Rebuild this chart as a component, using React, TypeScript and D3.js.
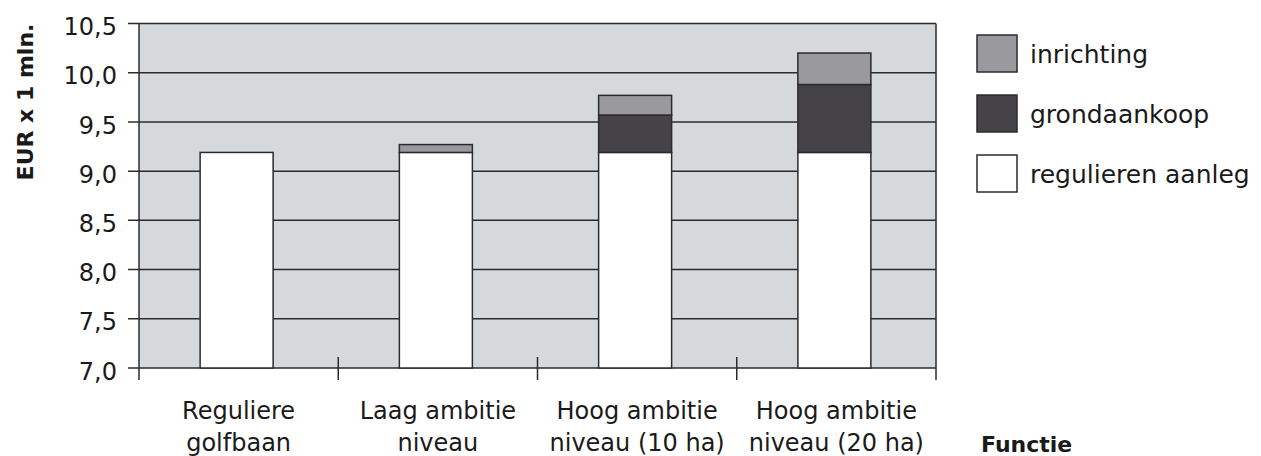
import { useEffect, useRef } from "react";
import * as d3 from "d3";

const categories = ["Reguliere golfbaan", "Laag ambitie niveau", "Hoog ambitie niveau (10 ha)", "Hoog ambitie niveau (20 ha)"];
const categoryLines = [
  ["Reguliere", "golfbaan"],
  ["Laag ambitie", "niveau"],
  ["Hoog ambitie", "niveau (10 ha)"],
  ["Hoog ambitie", "niveau (20 ha)"],
];
const seriesNames = ["regulieren aanleg", "grondaankoop", "inrichting"];
const regulierenAanleg = [9.19, 9.19, 9.19, 9.19];
const grondaankoop = [0, 0, 0.38, 0.69];
const inrichting = [0, 0.08, 0.2, 0.32];
const yTicks = [7.0, 7.5, 8.0, 8.5, 9.0, 9.5, 10.0, 10.5];

const App = () => {
  const svgRef = useRef<SVGSVGElement | null>(null);

  useEffect(() => {
    const width = 1261;
    const height = 456;
    const margin = { top: 23.5, right: 325, bottom: 88, left: 139 };
    const font = "'DejaVu Sans', sans-serif";
    const ink = "#2b2b2d";
    const textCol = "#1a1a1a";

    const colors: Record<string, string> = {
      "regulieren aanleg": "#ffffff",
      grondaankoop: "#454347",
      inrichting: "#9a999e",
    };

    const svg = d3.select(svgRef.current);
    svg.selectAll("*").remove();

    const x = d3
      .scaleBand<string>()
      .domain(categories)
      .range([margin.left, width - margin.right]);

    const y = d3
      .scaleLinear()
      .domain([7, 10.5])
      .range([height - margin.bottom, margin.top])
      .clamp(true);

    const table = categories.map((c, i) => ({
      cat: c,
      "regulieren aanleg": regulierenAanleg[i],
      grondaankoop: grondaankoop[i],
      inrichting: inrichting[i],
    }));
    const stacked = d3.stack<any>().keys(seriesNames)(table);

    // plot background
    svg
      .append("rect")
      .attr("x", margin.left)
      .attr("y", margin.top)
      .attr("width", width - margin.right - margin.left)
      .attr("height", y(7) - margin.top)
      .attr("fill", "#d6d9dc");

    // gridlines (with the left tick marks)
    svg
      .append("g")
      .selectAll("line")
      .data(yTicks)
      .join("line")
      .attr("x1", margin.left - 11)
      .attr("x2", width - margin.right)
      .attr("y1", (d) => y(d))
      .attr("y2", (d) => y(d))
      .attr("stroke", ink)
      .attr("stroke-width", 1.5);

    // right border
    svg
      .append("line")
      .attr("x1", width - margin.right)
      .attr("x2", width - margin.right)
      .attr("y1", margin.top)
      .attr("y2", y(7) + 12)
      .attr("stroke", ink)
      .attr("stroke-width", 1.5);

    // bars
    const barW = 73;
    svg
      .append("g")
      .selectAll("g")
      .data(stacked)
      .join("g")
      .attr("fill", (s) => colors[s.key])
      .selectAll("rect")
      .data((s) => s.filter((d) => d[1] - d[0] > 0))
      .join("rect")
      .attr("x", (d) => x(d.data.cat)! + x.bandwidth() / 2 - barW / 2 - 2)
      .attr("width", barW)
      .attr("y", (d) => y(d[1]))
      .attr("height", (d) => y(d[0]) - y(d[1]))
      .attr("stroke", ink)
      .attr("stroke-width", 1.5);

    // y axis line
    svg
      .append("line")
      .attr("x1", margin.left)
      .attr("x2", margin.left)
      .attr("y1", margin.top)
      .attr("y2", y(7) + 12)
      .attr("stroke", ink)
      .attr("stroke-width", 1.5);

    // x axis ticks at category boundaries
    const bounds = categories.map((c) => x(c)!).concat([width - margin.right]);
    svg
      .append("g")
      .selectAll("line")
      .data(bounds.slice(1, -1))
      .join("line")
      .attr("x1", (d) => d)
      .attr("x2", (d) => d)
      .attr("y1", y(7) - 11)
      .attr("y2", y(7) + 12)
      .attr("stroke", ink)
      .attr("stroke-width", 1.5);

    // y tick labels
    svg
      .append("g")
      .selectAll("text")
      .data(yTicks)
      .join("text")
      .attr("x", margin.left - 22)
      .attr("y", (d) => y(d) + 3)
      .attr("dy", "0.36em")
      .attr("text-anchor", "end")
      .attr("font-family", font)
      .attr("font-size", 24)
      .attr("fill", textCol)
      .text((d) => d3.format(".1f")(d).replace(".", ","));

    // category labels
    const labels = svg
      .append("g")
      .selectAll("text")
      .data(categories)
      .join("text")
      .attr("text-anchor", "middle")
      .attr("font-family", font)
      .attr("font-size", 24)
      .attr("fill", textCol);
    labels
      .selectAll("tspan")
      .data((_, i) => categoryLines[i].map((t) => ({ t, cat: categories[i] })))
      .join("tspan")
      .attr("x", (d) => x(d.cat)! + x.bandwidth() / 2)
      .attr("y", (_, j) => 419 + j * 32)
      .text((d) => d.t);

    // axis titles
    svg
      .append("text")
      .attr("transform", `translate(33, 102) rotate(-90)`)
      .attr("text-anchor", "middle")
      .attr("font-family", font)
      .attr("font-weight", "bold")
      .attr("font-size", 22)
      .attr("fill", textCol)
      .text("EUR x 1 mln.");

    svg
      .append("text")
      .attr("x", 981)
      .attr("y", 452)
      .attr("font-family", font)
      .attr("font-weight", "bold")
      .attr("font-size", 22)
      .attr("fill", textCol)
      .text("Functie");

    // legend
    const legendOrder = ["inrichting", "grondaankoop", "regulieren aanleg"];
    const lg = svg
      .append("g")
      .selectAll("g")
      .data(legendOrder)
      .join("g")
      .attr("transform", (_, i) => `translate(977, ${35 + i * 60})`);
    lg.append("rect")
      .attr("width", 40)
      .attr("height", 37)
      .attr("fill", (d) => colors[d])
      .attr("stroke", ink)
      .attr("stroke-width", 1.5);
    lg.append("text")
      .attr("x", 53)
      .attr("y", 18.5)
      .attr("dy", "0.36em")
      .attr("font-family", font)
      .attr("font-size", 25)
      .attr("fill", textCol)
      .text((d) => d);
  }, []);

  return (
    <svg
      ref={svgRef}
      width={1261}
      height={456}
      style={{ position: "absolute", left: 0, top: 0, background: "#fff" }}
    />
  );
};

export default App;
